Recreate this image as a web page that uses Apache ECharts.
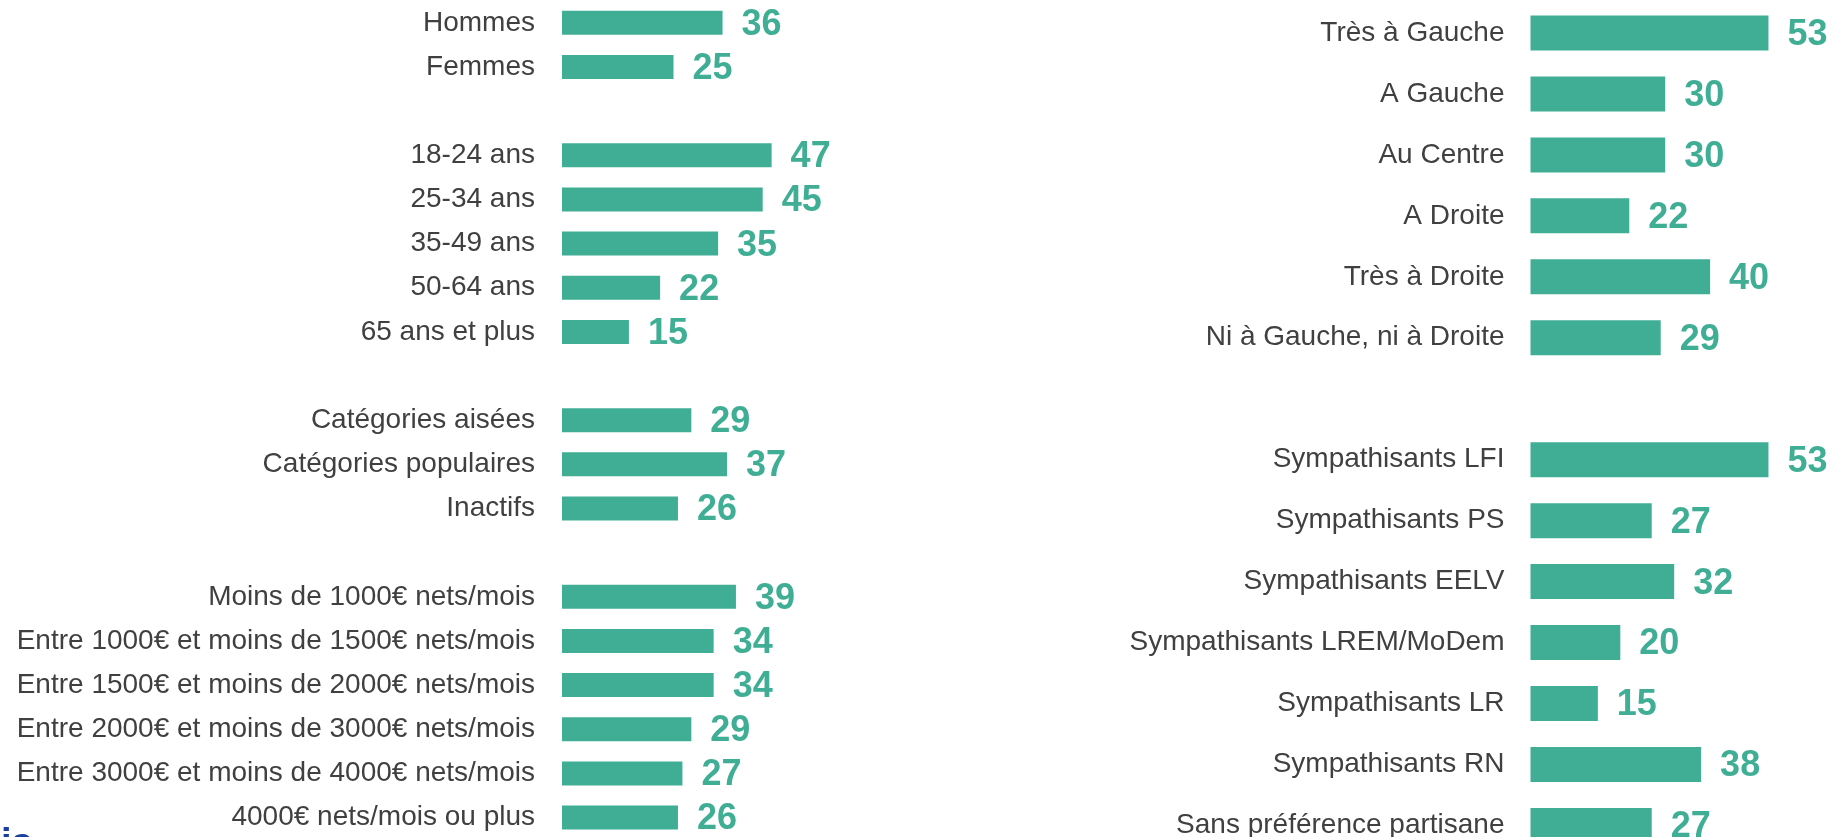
<!DOCTYPE html>
<html>
<head>
<meta charset="utf-8">
<script src="https://cdn.jsdelivr.net/npm/echarts@6/dist/echarts.min.js"></script>
<style>
  html, body { margin: 0; padding: 0; background: #fff; }
  #chart { width: 1836px; height: 837px; }
</style>
</head>
<body>
<div id="chart"></div>
<script>
// left panel groups
const sexeLabels = ['Hommes', 'Femmes']
const sexeValues = [36, 25]
const ageLabels = ['18-24 ans', '25-34 ans', '35-49 ans', '50-64 ans', '65 ans et plus']
const ageValues = [47, 45, 35, 22, 15]
const csoLabels = ['Catégories aisées', 'Catégories populaires', 'Inactifs']
const csoValues = [29, 37, 26]
const revenuLabels = [
  'Moins de 1000€ nets/mois',
  'Entre 1000€ et moins de 1500€ nets/mois',
  'Entre 1500€ et moins de 2000€ nets/mois',
  'Entre 2000€ et moins de 3000€ nets/mois',
  'Entre 3000€ et moins de 4000€ nets/mois',
  '4000€ nets/mois ou plus'
]
const revenuValues = [39, 34, 34, 29, 27, 26]

// right panel groups
const positionLabels = ['Très à Gauche', 'A Gauche', 'Au Centre', 'A Droite', 'Très à Droite', 'Ni à Gauche, ni à Droite']
const positionValues = [53, 30, 30, 22, 40, 29]
const partiLabels = [
  'Sympathisants LFI', 'Sympathisants PS', 'Sympathisants EELV', 'Sympathisants LREM/MoDem',
  'Sympathisants LR', 'Sympathisants RN', 'Sans préférence partisane'
]
const partiValues = [53, 27, 32, 20, 15, 38, 27]

const TEAL = '#3fae94'
const TEXT = '#404040'

// join groups with one empty row between them
function joinGroups(groups) {
  const labels = []
  const values = []
  groups.forEach((g, i) => {
    if (i > 0) {
      labels.push(' '.repeat(i))
      values.push(null)
    }
    labels.push(...g[0])
    values.push(...g[1])
  })
  return { labels, values }
}

const left = joinGroups([[sexeLabels, sexeValues], [ageLabels, ageValues], [csoLabels, csoValues], [revenuLabels, revenuValues]])
const right = joinGroups([[positionLabels, positionValues], [partiLabels, partiValues]])

const chart = echarts.init(document.getElementById('chart'))

const catAxis = (gridIndex, data, margin) => ({
  type: 'category',
  gridIndex: gridIndex,
  data: data,
  inverse: true,
  axisLine: { show: false },
  axisTick: { show: false },
  splitLine: { show: false },
  axisLabel: {
    margin: margin,
    fontSize: 28,
    color: TEXT,
    fontFamily: 'Liberation Sans, Arial, sans-serif'
  }
})

const valAxis = (gridIndex) => ({
  type: 'value',
  gridIndex: gridIndex,
  min: 0,
  max: 60,
  show: false,
  splitLine: { show: false }
})

const barSeries = (index, values, barWidth, distance) => ({
  type: 'bar',
  xAxisIndex: index,
  yAxisIndex: index,
  data: values,
  barWidth: barWidth,
  itemStyle: { color: TEAL },
  label: {
    show: true,
    position: 'right',
    distance: distance,
    offset: [0, 2],
    fontSize: 36,
    fontWeight: 'bold',
    color: TEAL,
    fontFamily: 'Liberation Sans, Arial, sans-serif'
  },
  animation: false
})

chart.setOption({
  backgroundColor: '#fff',
  // grids run past the bottom edge, like the cropped original
  grid: [
    { left: 562, top: 0.8, width: 267.6, height: 838.8, outerBoundsMode: 'none' },
    { left: 1530.5, top: 2.5, width: 269.4, height: 853.4, outerBoundsMode: 'none' }
  ],
  xAxis: [valAxis(0), valAxis(1)],
  yAxis: [catAxis(0, left.labels, 27), catAxis(1, right.labels, 26)],
  series: [
    barSeries(0, left.values, 24, 19),
    barSeries(1, right.values, 35, 19)
  ],
  graphic: [
    {
      // bottom edge of a cut-off logo
      type: 'text',
      left: 1,
      top: 826,
      style: {
        text: 'is',
        fontSize: 38,
        fontWeight: 'bold',
        fill: '#1c3f9e',
        fontFamily: 'Liberation Sans, Arial, sans-serif'
      }
    }
  ]
})
</script>
</body>
</html>
